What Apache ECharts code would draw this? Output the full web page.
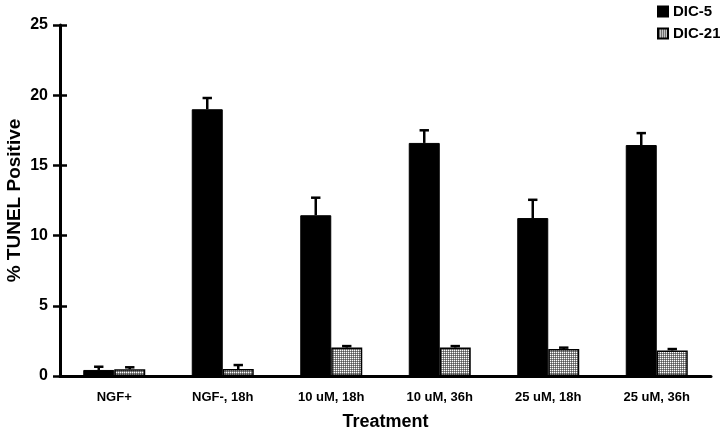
<!DOCTYPE html>
<html><head><meta charset="utf-8">
<script src="https://cdn.jsdelivr.net/npm/echarts@6/dist/echarts.min.js"></script>
<style>html,body{margin:0;padding:0;background:#fff}#c{width:720px;height:432px}</style>
</head><body><div id="c"></div>
<script>
var categories = ['NGF+', 'NGF-, 18h', '10 uM, 18h', '10 uM, 36h', '25 uM, 18h', '25 uM, 36h'];
var dic5 = [0.43, 19.0, 11.45, 16.6, 11.25, 16.45];
var err5 = [0.23, 0.8, 1.25, 0.9, 1.3, 0.85];
var dic21 = [0.48, 0.5, 2.03, 2.03, 1.92, 1.82];
var err21 = [0.14, 0.28, 0.1, 0.1, 0.1, 0.1];
var yTicks = [0, 5, 10, 15, 20, 25];

var FONT = '"Liberation Sans", Arial, sans-serif';
var BW = 31;

var cv = document.createElement('canvas');
cv.width = 2; cv.height = 2;
var cx = cv.getContext('2d');
cx.fillStyle = '#ffffff'; cx.fillRect(0, 0, 1, 1);
cx.fillStyle = '#8a8a8a'; cx.fillRect(1, 0, 1, 1); cx.fillRect(0, 1, 1, 1);
cx.fillStyle = '#555555'; cx.fillRect(1, 1, 1, 1);
var pattern = { image: cv, repeat: 'repeat' };

function errSeries(vals, errs, offset) {
  return {
    type: 'custom',
    xAxisIndex: 0, yAxisIndex: 0,
    z: 5,
    data: vals.map(function (v, i) { return [i, v, errs[i]]; }),
    renderItem: function (params, api) {
      var i = api.value(0), v = api.value(1), e = api.value(2);
      var b = api.coord([i, v]);
      var t = api.coord([i, v + e]);
      var x = b[0] + offset;
      var st = { stroke: '#000', lineWidth: 2.5 };
      return {
        type: 'group',
        children: [
          { type: 'line', shape: { x1: x, y1: b[1], x2: x, y2: t[1] }, style: st },
          { type: 'line', shape: { x1: x - 4.7, y1: t[1], x2: x + 4.7, y2: t[1] }, style: st }
        ]
      };
    }
  };
}

var chart = echarts.init(document.getElementById('c'));
chart.setOption({
  animation: false,
  backgroundColor: '#fff',
  grid: { left: 60, right: 9, top: 25, bottom: 56, containLabel: false, outerBoundsMode: 'none' },
  legend: {
    orient: 'vertical', left: 657, top: 4, padding: 0,
    itemWidth: 10, itemHeight: 10, itemGap: 7, icon: 'rect',
    data: ['DIC-5', 'DIC-21'],
    textStyle: { fontFamily: FONT, fontWeight: 'bold', fontSize: 15, color: '#000' }
  },
  xAxis: [{
    type: 'category', data: categories, position: 'bottom',
    name: 'Treatment', nameLocation: 'middle', nameGap: 37, nameMoveOverlap: false,
    nameTextStyle: { fontFamily: FONT, fontWeight: 'bold', fontSize: 18, color: '#000' },
    axisLine: { lineStyle: { color: '#000', width: 3 } },
    axisTick: { length: 6, lineStyle: { color: '#000', width: 2.5 } },
    axisLabel: { fontFamily: FONT, fontWeight: 'bold', fontSize: 13, color: '#000', margin: 15 }
  }, {
    type: 'category', data: categories, position: 'bottom',
    axisLine: { show: false },
    axisTick: { inside: true, length: 5, lineStyle: { color: '#000', width: 2.5 } },
    axisLabel: { show: false }
  }],
  yAxis: [{
    type: 'value', min: 0, max: 25, interval: 5,
    name: '% TUNEL Positive', nameLocation: 'middle', nameGap: 36, nameMoveOverlap: false,
    nameTextStyle: { fontFamily: FONT, fontWeight: 'bold', fontSize: 19, color: '#000' },
    splitLine: { show: false },
    axisLine: { show: true, lineStyle: { color: '#000', width: 3 } },
    axisTick: { show: true, length: 7, lineStyle: { color: '#000', width: 2.5 } },
    axisLabel: { fontFamily: FONT, fontWeight: 'bold', fontSize: 16, color: '#000', margin: 12,
      formatter: function (v) { return yTicks.indexOf(v) >= 0 ? String(v) : ''; } }
  }, {
    type: 'value', min: 0, max: 25, interval: 5, position: 'left',
    splitLine: { show: false },
    axisLine: { show: false },
    axisTick: { show: true, inside: true, length: 7, lineStyle: { color: '#000', width: 2.5 } },
    axisLabel: { show: false }
  }],
  series: [{
    name: 'DIC-5', type: 'bar', data: dic5, barWidth: BW, barGap: '0%',
    itemStyle: { color: '#000', borderColor: '#000', borderWidth: 1 }
  }, {
    name: 'DIC-21', type: 'bar', data: dic21, barWidth: BW, barGap: '0%',
    itemStyle: { color: pattern, borderColor: '#000', borderWidth: 1.5 }
  },
  errSeries(dic5, err5, -BW / 2),
  errSeries(dic21, err21, BW / 2)
  ]
});
</script>
</body></html>
